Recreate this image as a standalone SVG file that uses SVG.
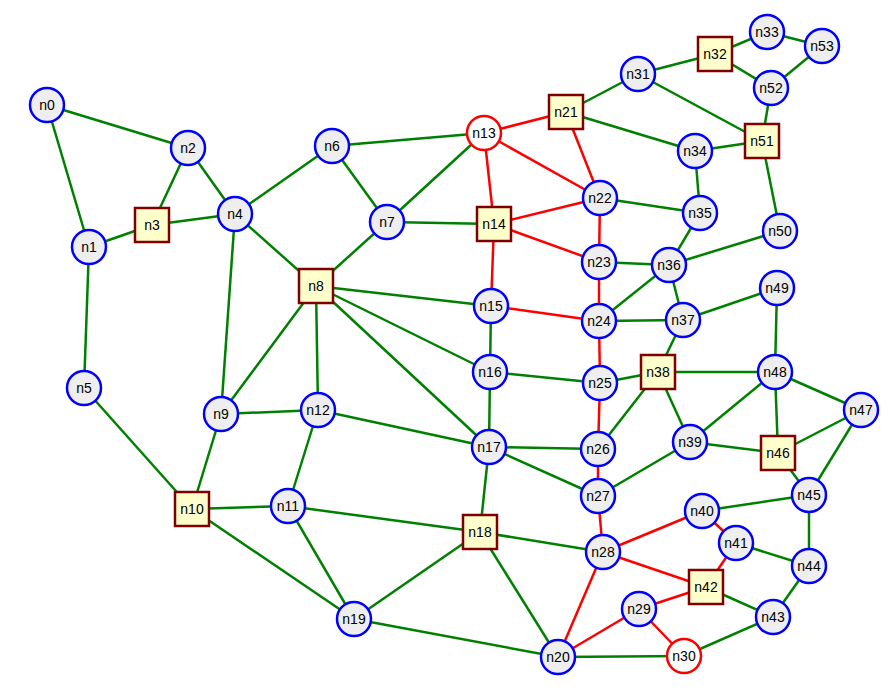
<svg xmlns="http://www.w3.org/2000/svg" width="892" height="695" viewBox="0 0 892 695">
<style>
.e{stroke-width:2.5;fill:none}
.g{stroke:#008000}
.r{stroke:#ff0000}
.c{fill:#eeeeee;stroke:#0000ff;stroke-width:2.5}
.cr{fill:#ffffff;stroke:#ff0000;stroke-width:2.5}
.s{fill:#ffffcc;stroke:#800000;stroke-width:2.5}
text{font-family:"Liberation Sans",Arial,sans-serif;font-size:14px;fill:#000;text-anchor:middle;dominant-baseline:central}
</style>
<rect width="892" height="695" fill="#ffffff"/>
<g id="connectors" class="e">
<g class="g">
<line x1="47" y1="105" x2="188" y2="148"/>
<line x1="47" y1="105" x2="89" y2="247"/>
<line x1="89" y1="247" x2="152" y2="225"/>
<line x1="89" y1="247" x2="84" y2="388"/>
<line x1="188" y1="148" x2="152" y2="225"/>
<line x1="188" y1="148" x2="235" y2="214"/>
<line x1="152" y1="225" x2="235" y2="214"/>
<line x1="235" y1="214" x2="332" y2="146"/>
<line x1="235" y1="214" x2="316" y2="286"/>
<line x1="235" y1="214" x2="221" y2="414"/>
<line x1="84" y1="388" x2="192" y2="509"/>
<line x1="332" y1="146" x2="484" y2="133"/>
<line x1="332" y1="146" x2="387" y2="222"/>
<line x1="387" y1="222" x2="484" y2="133"/>
<line x1="387" y1="222" x2="494" y2="224"/>
<line x1="387" y1="222" x2="316" y2="286"/>
<line x1="316" y1="286" x2="491" y2="306"/>
<line x1="316" y1="286" x2="490" y2="372"/>
<line x1="316" y1="286" x2="489" y2="447"/>
<line x1="316" y1="286" x2="318" y2="410"/>
<line x1="316" y1="286" x2="221" y2="414"/>
<line x1="221" y1="414" x2="318" y2="410"/>
<line x1="221" y1="414" x2="192" y2="509"/>
<line x1="192" y1="509" x2="288" y2="506"/>
<line x1="192" y1="509" x2="354" y2="619"/>
<line x1="288" y1="506" x2="318" y2="410"/>
<line x1="288" y1="506" x2="480" y2="532"/>
<line x1="288" y1="506" x2="354" y2="619"/>
<line x1="318" y1="410" x2="489" y2="447"/>
<line x1="491" y1="306" x2="490" y2="372"/>
<line x1="490" y1="372" x2="489" y2="447"/>
<line x1="490" y1="372" x2="600" y2="383"/>
<line x1="489" y1="447" x2="480" y2="532"/>
<line x1="489" y1="447" x2="598" y2="449"/>
<line x1="489" y1="447" x2="598" y2="496"/>
<line x1="480" y1="532" x2="354" y2="619"/>
<line x1="480" y1="532" x2="603" y2="552"/>
<line x1="480" y1="532" x2="558" y2="657"/>
<line x1="354" y1="619" x2="558" y2="657"/>
<line x1="558" y1="657" x2="684" y2="656"/>
<line x1="566" y1="112" x2="638" y2="74"/>
<line x1="566" y1="112" x2="695" y2="151"/>
<line x1="638" y1="74" x2="715" y2="54"/>
<line x1="638" y1="74" x2="762" y2="141"/>
<line x1="715" y1="54" x2="767" y2="32"/>
<line x1="715" y1="54" x2="771" y2="88"/>
<line x1="767" y1="32" x2="822" y2="46"/>
<line x1="822" y1="46" x2="771" y2="88"/>
<line x1="771" y1="88" x2="762" y2="141"/>
<line x1="695" y1="151" x2="762" y2="141"/>
<line x1="695" y1="151" x2="700" y2="213"/>
<line x1="762" y1="141" x2="780" y2="231"/>
<line x1="600" y1="198" x2="700" y2="213"/>
<line x1="599" y1="262" x2="669" y2="265"/>
<line x1="700" y1="213" x2="669" y2="265"/>
<line x1="669" y1="265" x2="780" y2="231"/>
<line x1="669" y1="265" x2="599" y2="321"/>
<line x1="669" y1="265" x2="683" y2="320"/>
<line x1="599" y1="321" x2="683" y2="320"/>
<line x1="683" y1="320" x2="777" y2="288"/>
<line x1="683" y1="320" x2="658" y2="372"/>
<line x1="600" y1="383" x2="658" y2="372"/>
<line x1="658" y1="372" x2="775" y2="372"/>
<line x1="658" y1="372" x2="598" y2="449"/>
<line x1="658" y1="372" x2="690" y2="442"/>
<line x1="775" y1="372" x2="777" y2="288"/>
<line x1="775" y1="372" x2="690" y2="442"/>
<line x1="775" y1="372" x2="778" y2="453"/>
<line x1="775" y1="372" x2="861" y2="410"/>
<line x1="690" y1="442" x2="778" y2="453"/>
<line x1="690" y1="442" x2="598" y2="496"/>
<line x1="861" y1="410" x2="778" y2="453"/>
<line x1="861" y1="410" x2="809" y2="495"/>
<line x1="778" y1="453" x2="809" y2="495"/>
<line x1="809" y1="495" x2="702" y2="511"/>
<line x1="809" y1="495" x2="809" y2="566"/>
<line x1="736" y1="543" x2="809" y2="566"/>
<line x1="809" y1="566" x2="773" y2="617"/>
<line x1="773" y1="617" x2="706" y2="587"/>
<line x1="773" y1="617" x2="684" y2="656"/>
</g>
<g class="r">
<line x1="484" y1="133" x2="566" y2="112"/>
<line x1="484" y1="133" x2="600" y2="198"/>
<line x1="484" y1="133" x2="494" y2="224"/>
<line x1="566" y1="112" x2="600" y2="198"/>
<line x1="494" y1="224" x2="600" y2="198"/>
<line x1="494" y1="224" x2="599" y2="262"/>
<line x1="494" y1="224" x2="491" y2="306"/>
<line x1="600" y1="198" x2="599" y2="262"/>
<line x1="599" y1="262" x2="599" y2="321"/>
<line x1="491" y1="306" x2="599" y2="321"/>
<line x1="599" y1="321" x2="600" y2="383"/>
<line x1="600" y1="383" x2="598" y2="449"/>
<line x1="598" y1="449" x2="598" y2="496"/>
<line x1="598" y1="496" x2="603" y2="552"/>
<line x1="603" y1="552" x2="702" y2="511"/>
<line x1="603" y1="552" x2="706" y2="587"/>
<line x1="603" y1="552" x2="558" y2="657"/>
<line x1="702" y1="511" x2="736" y2="543"/>
<line x1="736" y1="543" x2="706" y2="587"/>
<line x1="706" y1="587" x2="639" y2="609"/>
<line x1="639" y1="609" x2="558" y2="657"/>
<line x1="639" y1="609" x2="684" y2="656"/>
</g>
</g>
<g id="n0"><circle class="c" cx="47" cy="105" r="17"/><text x="47" y="105">n0</text></g>
<g id="n1"><circle class="c" cx="89" cy="247" r="17"/><text x="89" y="247">n1</text></g>
<g id="n2"><circle class="c" cx="188" cy="148" r="17"/><text x="188" y="148">n2</text></g>
<g id="n3"><rect class="s" x="135" y="208" width="34" height="34"/><text x="152" y="225">n3</text></g>
<g id="n4"><circle class="c" cx="235" cy="214" r="17"/><text x="235" y="214">n4</text></g>
<g id="n5"><circle class="c" cx="84" cy="388" r="17"/><text x="84" y="388">n5</text></g>
<g id="n6"><circle class="c" cx="332" cy="146" r="17"/><text x="332" y="146">n6</text></g>
<g id="n7"><circle class="c" cx="387" cy="222" r="17"/><text x="387" y="222">n7</text></g>
<g id="n8"><rect class="s" x="299" y="269" width="34" height="34"/><text x="316" y="286">n8</text></g>
<g id="n9"><circle class="c" cx="221" cy="414" r="17"/><text x="221" y="414">n9</text></g>
<g id="n10"><rect class="s" x="175" y="492" width="34" height="34"/><text x="192" y="509">n10</text></g>
<g id="n11"><circle class="c" cx="288" cy="506" r="17"/><text x="288" y="506">n11</text></g>
<g id="n12"><circle class="c" cx="318" cy="410" r="17"/><text x="318" y="410">n12</text></g>
<g id="n13"><circle class="cr" cx="484" cy="133" r="17"/><text x="484" y="133">n13</text></g>
<g id="n14"><rect class="s" x="477" y="207" width="34" height="34"/><text x="494" y="224">n14</text></g>
<g id="n15"><circle class="c" cx="491" cy="306" r="17"/><text x="491" y="306">n15</text></g>
<g id="n16"><circle class="c" cx="490" cy="372" r="17"/><text x="490" y="372">n16</text></g>
<g id="n17"><circle class="c" cx="489" cy="447" r="17"/><text x="489" y="447">n17</text></g>
<g id="n18"><rect class="s" x="463" y="515" width="34" height="34"/><text x="480" y="532">n18</text></g>
<g id="n19"><circle class="c" cx="354" cy="619" r="17"/><text x="354" y="619">n19</text></g>
<g id="n20"><circle class="c" cx="558" cy="657" r="17"/><text x="558" y="657">n20</text></g>
<g id="n21"><rect class="s" x="549" y="95" width="34" height="34"/><text x="566" y="112">n21</text></g>
<g id="n22"><circle class="c" cx="600" cy="198" r="17"/><text x="600" y="198">n22</text></g>
<g id="n23"><circle class="c" cx="599" cy="262" r="17"/><text x="599" y="262">n23</text></g>
<g id="n24"><circle class="c" cx="599" cy="321" r="17"/><text x="599" y="321">n24</text></g>
<g id="n25"><circle class="c" cx="600" cy="383" r="17"/><text x="600" y="383">n25</text></g>
<g id="n26"><circle class="c" cx="598" cy="449" r="17"/><text x="598" y="449">n26</text></g>
<g id="n27"><circle class="c" cx="598" cy="496" r="17"/><text x="598" y="496">n27</text></g>
<g id="n28"><circle class="c" cx="603" cy="552" r="17"/><text x="603" y="552">n28</text></g>
<g id="n29"><circle class="c" cx="639" cy="609" r="17"/><text x="639" y="609">n29</text></g>
<g id="n30"><circle class="cr" cx="684" cy="656" r="17"/><text x="684" y="656">n30</text></g>
<g id="n31"><circle class="c" cx="638" cy="74" r="17"/><text x="638" y="74">n31</text></g>
<g id="n32"><rect class="s" x="698" y="37" width="34" height="34"/><text x="715" y="54">n32</text></g>
<g id="n33"><circle class="c" cx="767" cy="32" r="17"/><text x="767" y="32">n33</text></g>
<g id="n34"><circle class="c" cx="695" cy="151" r="17"/><text x="695" y="151">n34</text></g>
<g id="n35"><circle class="c" cx="700" cy="213" r="17"/><text x="700" y="213">n35</text></g>
<g id="n36"><circle class="c" cx="669" cy="265" r="17"/><text x="669" y="265">n36</text></g>
<g id="n37"><circle class="c" cx="683" cy="320" r="17"/><text x="683" y="320">n37</text></g>
<g id="n38"><rect class="s" x="641" y="355" width="34" height="34"/><text x="658" y="372">n38</text></g>
<g id="n39"><circle class="c" cx="690" cy="442" r="17"/><text x="690" y="442">n39</text></g>
<g id="n40"><circle class="c" cx="702" cy="511" r="17"/><text x="702" y="511">n40</text></g>
<g id="n41"><circle class="c" cx="736" cy="543" r="17"/><text x="736" y="543">n41</text></g>
<g id="n42"><rect class="s" x="689" y="570" width="34" height="34"/><text x="706" y="587">n42</text></g>
<g id="n43"><circle class="c" cx="773" cy="617" r="17"/><text x="773" y="617">n43</text></g>
<g id="n44"><circle class="c" cx="809" cy="566" r="17"/><text x="809" y="566">n44</text></g>
<g id="n45"><circle class="c" cx="809" cy="495" r="17"/><text x="809" y="495">n45</text></g>
<g id="n46"><rect class="s" x="761" y="436" width="34" height="34"/><text x="778" y="453">n46</text></g>
<g id="n47"><circle class="c" cx="861" cy="410" r="17"/><text x="861" y="410">n47</text></g>
<g id="n48"><circle class="c" cx="775" cy="372" r="17"/><text x="775" y="372">n48</text></g>
<g id="n49"><circle class="c" cx="777" cy="288" r="17"/><text x="777" y="288">n49</text></g>
<g id="n50"><circle class="c" cx="780" cy="231" r="17"/><text x="780" y="231">n50</text></g>
<g id="n51"><rect class="s" x="745" y="124" width="34" height="34"/><text x="762" y="141">n51</text></g>
<g id="n52"><circle class="c" cx="771" cy="88" r="17"/><text x="771" y="88">n52</text></g>
<g id="n53"><circle class="c" cx="822" cy="46" r="17"/><text x="822" y="46">n53</text></g>
</svg>
